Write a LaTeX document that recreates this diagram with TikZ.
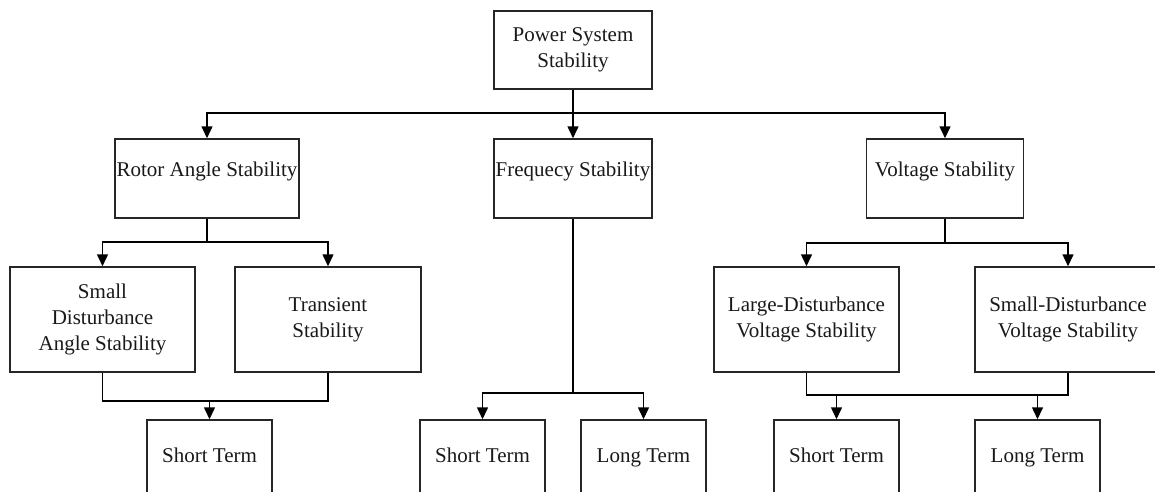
\documentclass[tikz,border=0pt]{standalone}
\usepackage{fontspec}
\setmainfont{Liberation Serif}
\usetikzlibrary{arrows.meta}
\begin{document}
\begin{tikzpicture}[x=1pt,y=-1pt,
  every node/.style={font=\fontsize{21}{26}\selectfont, text=black!90},
  box/.style={draw=black!85, line width=1.5pt, inner xsep=0pt, inner ysep=0pt, align=center},
  topbox/.style={box, minimum height=79pt, text height=15pt, text depth=20pt},
  midbox/.style={box, minimum height=105pt},
  lowbox/.style={box, minimum width=125pt, minimum height=74pt, text height=15pt, text depth=5pt},
  link/.style={draw=black, line width=1.5pt},
  arr/.style={link, -{Triangle[width=11pt,length=12pt]}}
]
\clip (0,0) rectangle (1155,491);
\fill[white] (0,0) rectangle (1155,491);

\node[box, minimum width=158pt, minimum height=78pt] (P) at (573,50) {Power System\\Stability};

\node[topbox, minimum width=184pt] (R) at (207,178.5) {Rotor Angle Stability};
\node[topbox, minimum width=158pt] (F) at (573,178.5) {Frequecy Stability};
\node[topbox, minimum width=157pt] (V) at (945,178.5) {Voltage Stability};

\node[midbox, minimum width=185pt] (SD) at (102.5,319.5) {Small\\Disturbance\\Angle Stability};
\node[midbox, minimum width=186pt] (TS) at (328,319.5) {Transient\\Stability};
\node[midbox, minimum width=185pt] (LD) at (806.5,319.5) {Large-Disturbance\\Voltage Stability};
\node[midbox, minimum width=186pt] (SV) at (1068,319.5) {Small-Disturbance\\Voltage Stability};

\node[lowbox] (S1) at (209.5,457) {Short Term};
\node[lowbox] (S2) at (482.5,457) {Short Term};
\node[lowbox] (L2) at (643.5,457) {Long Term};
\node[lowbox] (S3) at (836.5,457) {Short Term};
\node[lowbox] (L3) at (1037.5,457) {Long Term};

% junction coordinates
\coordinate (jP) at (573,113);
\coordinate (jR) at (207,242);
\coordinate (jV) at (945,243);
\coordinate (jF) at (573,393);
\coordinate (jA) at (209.5,401);
\coordinate (jL) at (806.5,395);

% Power -> level 1
\draw[link] (P.south) -- (jP);
\draw[arr] (jP) -| (R.north);
\draw[arr] (jP) -| (V.north);
\draw[arr] (jP) -- (F.north);

% Rotor -> level 2
\draw[link] (R.south) -- (jR);
\draw[arr] (jR) -| (SD.north);
\draw[arr] (jR) -| (TS.north);

% Voltage -> level 2
\draw[link] (V.south) -- (jV);
\draw[arr] (jV) -| (LD.north);
\draw[arr] (jV) -| (SV.north);

% Rotor branches -> Short Term
\draw[link] (SD.south) |- (jA) -| (TS.south);
\draw[arr] (jA) -- (S1.north);

% Frequency -> terms
\draw[link] (F.south) -- (jF);
\draw[arr] (jF) -| (S2.north);
\draw[arr] (jF) -| (L2.north);

% Voltage branches -> terms
\draw[link] (LD.south) |- (jL) -| (SV.south);
\draw[arr] (S3.north |- jL) -- (S3.north);
\draw[arr] (L3.north |- jL) -- (L3.north);
\end{tikzpicture}
\end{document}
